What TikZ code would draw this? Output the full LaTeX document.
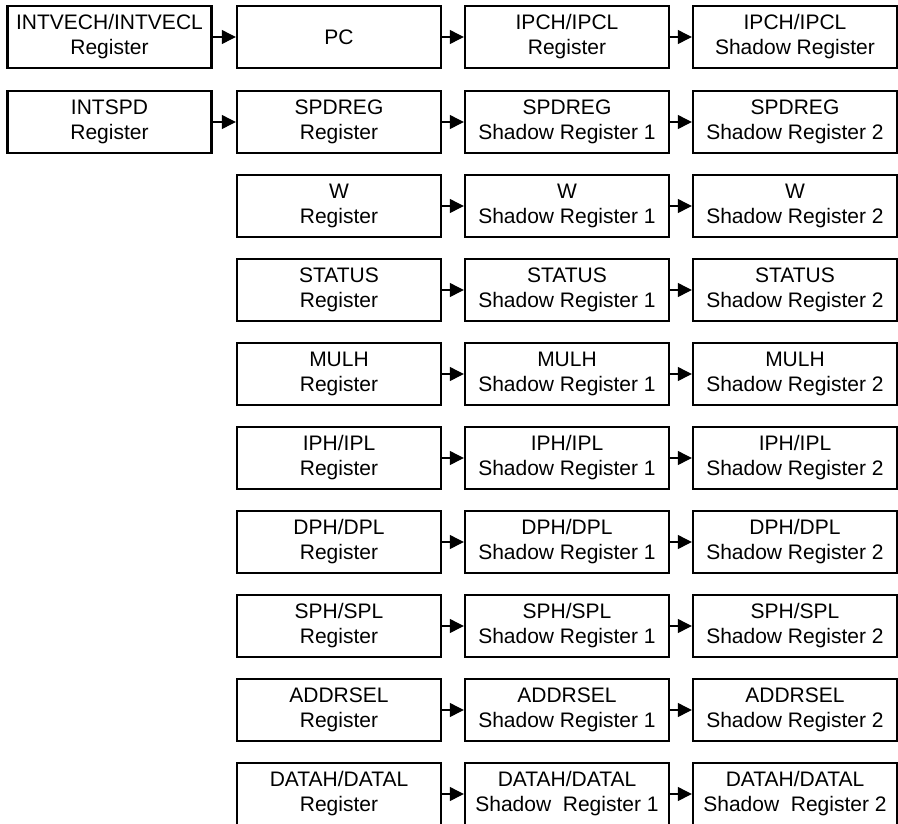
\documentclass[tikz,border=0pt]{standalone}
\usepackage{fontspec}
\setmainfont{Liberation Sans}
\usetikzlibrary{arrows.meta}
\begin{document}
\begin{tikzpicture}[x=1pt, y=-1pt,
  reg/.style={draw=black, line width=2.4pt, minimum width=204pt, minimum height=62pt,
    inner sep=0pt, align=center, font=\fontsize{21}{25}\selectfont},
  link/.style={-{Triangle[length=14pt, width=14pt]}, line width=1.2pt, black}]
\useasboundingbox (0,0) rectangle (898,823);
% row 1
\node[reg] (intvec) at (109.5, 37) {INTVECH/INTVECL\\Register};
\node[reg] (pc) at (339, 37) {PC};
\node[reg] (ipc) at (567, 37) {IPCH/IPCL\\Register};
\node[reg] (ipcsh) at (795, 37) {IPCH/IPCL\\Shadow Register};
% row 2
\node[reg] (intspd) at (109.5, 122) {INTSPD\\Register};
\node[reg] (spd) at (339, 122) {SPDREG\\Register};
\node[reg] (spdsha) at (567, 122) {SPDREG\\Shadow Register 1};
\node[reg] (spdshb) at (795, 122) {SPDREG\\Shadow Register 2};
% row 3
\node[reg] (w) at (339, 206) {W\\Register};
\node[reg] (wsha) at (567, 206) {W\\Shadow Register 1};
\node[reg] (wshb) at (795, 206) {W\\Shadow Register 2};
% row 4
\node[reg] (status) at (339, 290) {STATUS\\Register};
\node[reg] (statussha) at (567, 290) {STATUS\\Shadow Register 1};
\node[reg] (statusshb) at (795, 290) {STATUS\\Shadow Register 2};
% row 5
\node[reg] (mulh) at (339, 374) {MULH\\Register};
\node[reg] (mulhsha) at (567, 374) {MULH\\Shadow Register 1};
\node[reg] (mulhshb) at (795, 374) {MULH\\Shadow Register 2};
% row 6
\node[reg] (ip) at (339, 458) {IPH/IPL\\Register};
\node[reg] (ipsha) at (567, 458) {IPH/IPL\\Shadow Register 1};
\node[reg] (ipshb) at (795, 458) {IPH/IPL\\Shadow Register 2};
% row 7
\node[reg] (dp) at (339, 542) {DPH/DPL\\Register};
\node[reg] (dpsha) at (567, 542) {DPH/DPL\\Shadow Register 1};
\node[reg] (dpshb) at (795, 542) {DPH/DPL\\Shadow Register 2};
% row 8
\node[reg] (sp) at (339, 626) {SPH/SPL\\Register};
\node[reg] (spsha) at (567, 626) {SPH/SPL\\Shadow Register 1};
\node[reg] (spshb) at (795, 626) {SPH/SPL\\Shadow Register 2};
% row 9
\node[reg] (addr) at (339, 710) {ADDRSEL\\Register};
\node[reg] (addrsha) at (567, 710) {ADDRSEL\\Shadow Register 1};
\node[reg] (addrshb) at (795, 710) {ADDRSEL\\Shadow Register 2};
% row 10
\node[reg] (data) at (339, 794) {DATAH/DATAL\\Register};
\node[reg] (datasha) at (567, 794) {DATAH/DATAL\\Shadow\ \ Register 1};
\node[reg] (datashb) at (795, 794) {DATAH/DATAL\\Shadow\ \ Register 2};
% arrows
\draw[link] (intvec) -- (pc);
\draw[link] (pc) -- (ipc);
\draw[link] (ipc) -- (ipcsh);
\draw[link] (intspd) -- (spd);
\draw[link] (spd) -- (spdsha);
\draw[link] (spdsha) -- (spdshb);
\draw[link] (w) -- (wsha);
\draw[link] (wsha) -- (wshb);
\draw[link] (status) -- (statussha);
\draw[link] (statussha) -- (statusshb);
\draw[link] (mulh) -- (mulhsha);
\draw[link] (mulhsha) -- (mulhshb);
\draw[link] (ip) -- (ipsha);
\draw[link] (ipsha) -- (ipshb);
\draw[link] (dp) -- (dpsha);
\draw[link] (dpsha) -- (dpshb);
\draw[link] (sp) -- (spsha);
\draw[link] (spsha) -- (spshb);
\draw[link] (addr) -- (addrsha);
\draw[link] (addrsha) -- (addrshb);
\draw[link] (data) -- (datasha);
\draw[link] (datasha) -- (datashb);
\end{tikzpicture}
\end{document}
